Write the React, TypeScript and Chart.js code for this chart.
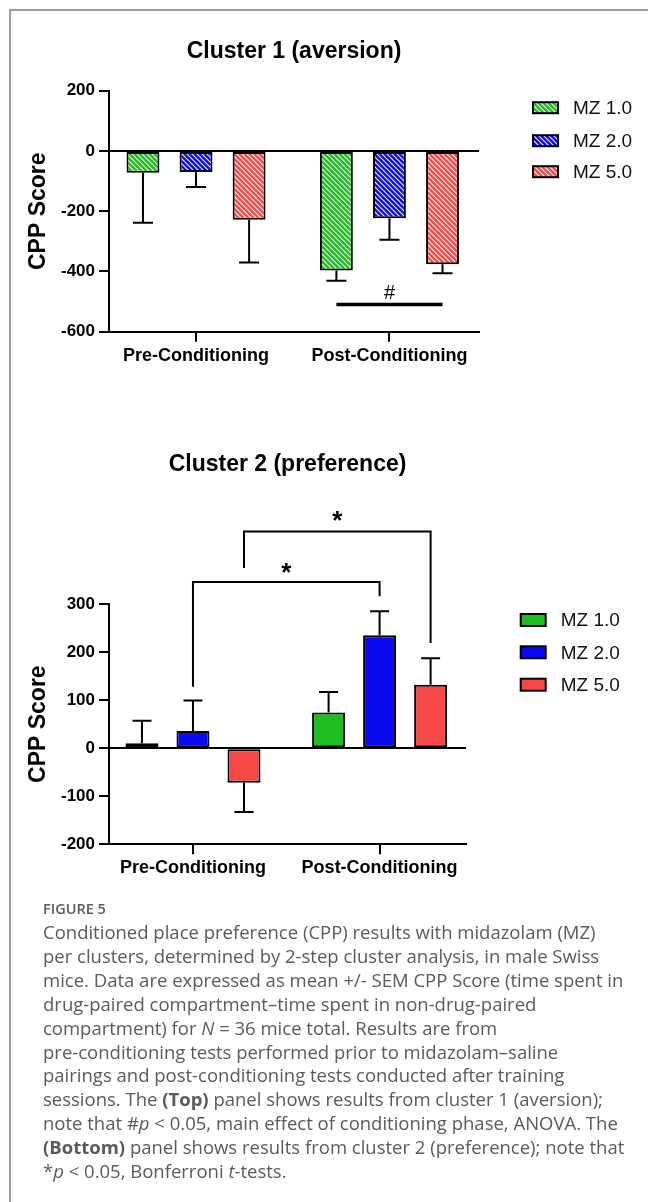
import React, { useEffect, useRef } from "react";
import { Chart, registerables } from "chart.js";

Chart.register(...registerables);

// ---------- data ----------
const phases = ["Pre-Conditioning", "Post-Conditioning"];
const seriesNames = ["MZ 1.0", "MZ 2.0", "MZ 5.0"];
const seriesColors = ["#1cbd1c", "#0b0bef", "#f74848"];

// Cluster 1 (aversion)
const c1Mz1 = [-72, -397];
const c1Mz2 = [-70, -223];
const c1Mz5 = [-228, -376];
const c1Mz1Sem = [166, 34];
const c1Mz2Sem = [50, 72];
const c1Mz5Sem = [142, 30];
const c1Ticks = [-600, -400, -200, 0, 200];

// Cluster 2 (preference)
const c2Mz1 = [10, 74];
const c2Mz2 = [36, 235];
const c2Mz5 = [-72, 132];
const c2Mz1Sem = [47, 43];
const c2Mz2Sem = [63, 50];
const c2Mz5Sem = [61, 55];
const c2Ticks = [-200, -100, 0, 100, 200, 300];

const FONT = "'Liberation Sans', Arial, Helvetica, sans-serif";

function hatch(color: string): any {
  const s = 5;
  const c = document.createElement("canvas");
  c.width = s;
  c.height = s;
  const g = c.getContext("2d")!;
  g.fillStyle = color;
  g.fillRect(0, 0, s, s);
  g.strokeStyle = "rgba(255,255,255,0.92)";
  g.lineWidth = 1.2;
  g.beginPath();
  g.moveTo(-1, -1);
  g.lineTo(s + 1, s + 1);
  g.moveTo(s - 1, -1);
  g.lineTo(s + 1, 1);
  g.moveTo(-1, s - 1);
  g.lineTo(1, s + 1);
  g.stroke();
  return g.createPattern(c, "repeat");
}

type PanelCfg = {
  title: string;
  titleY: number;
  values: number[][];
  sems: number[][];
  ticks: number[];
  hatched: boolean;
  width: number;
  height: number;
  padding: { left: number; right: number; top: number; bottom: number };
  catPct: number;
  barPct: number;
  xTickPad: number;
  legendX: number;
  legendTextX: number;
  legendYs: number[];
  legendH: number;
  capHalf: number;
  hashBar?: { fromDs: number; toDs: number; cat: number; y: number; labelY: number };
  brackets?: { fromCat: number; toCat: number; ds: number; leftY: number; rightY: number; topY: number; starY: number }[];
};

function makeDecor(cfg: PanelCfg) {
  return {
    id: "decor",
    afterDatasetsDraw(chart: any) {
      const ctx = chart.ctx;
      const ys = chart.scales.y;
      ctx.save();
      ctx.strokeStyle = "#000";
      ctx.lineWidth = 2;
      chart.data.datasets.forEach((ds: any, i: number) => {
        const meta = chart.getDatasetMeta(i);
        meta.data.forEach((el: any, j: number) => {
          const v = ds.data[j] as number;
          const sem = cfg.sems[i][j];
          const end = v >= 0 ? v + sem : v - sem;
          const yEnd = ys.getPixelForValue(end);
          ctx.beginPath();
          ctx.moveTo(el.x, el.y);
          ctx.lineTo(el.x, yEnd);
          ctx.moveTo(el.x - cfg.capHalf, yEnd);
          ctx.lineTo(el.x + cfg.capHalf, yEnd);
          ctx.stroke();
        });
      });
      ctx.restore();
    },
    afterDraw(chart: any) {
      const ctx = chart.ctx;
      const area = chart.chartArea;
      const ys = chart.scales.y;
      ctx.save();
      // title
      ctx.fillStyle = "#000";
      ctx.font = `bold 23px ${FONT}`;
      ctx.textAlign = "center";
      ctx.textBaseline = "middle";
      ctx.fillText(cfg.title, (area.left + area.right) / 2, cfg.titleY);

      // legend
      chart.data.datasets.forEach((ds: any, i: number) => {
        const yc = cfg.legendYs[i];
        const w = 25;
        const h = cfg.legendH;
        ctx.fillStyle = ds.backgroundColor;
        ctx.fillRect(cfg.legendX, yc - h / 2, w, h);
        ctx.strokeStyle = "#000";
        ctx.lineWidth = 2;
        ctx.strokeRect(cfg.legendX, yc - h / 2, w, h);
        ctx.fillStyle = "#111";
        ctx.font = `19px ${FONT}`;
        ctx.textAlign = "left";
        ctx.textBaseline = "middle";
        ctx.fillText(ds.label, cfg.legendTextX, yc + 1);
      });

      // significance bar (#)
      if (cfg.hashBar) {
        const hb = cfg.hashBar;
        const x1 = chart.getDatasetMeta(hb.fromDs).data[hb.cat].x;
        const x2 = chart.getDatasetMeta(hb.toDs).data[hb.cat].x;
        const yy = ys.getPixelForValue(hb.y);
        ctx.strokeStyle = "#000";
        ctx.lineWidth = 3.5;
        ctx.beginPath();
        ctx.moveTo(x1, yy);
        ctx.lineTo(x2, yy);
        ctx.stroke();
        ctx.fillStyle = "#000";
        ctx.font = `20px ${FONT}`;
        ctx.textAlign = "center";
        ctx.textBaseline = "middle";
        ctx.fillText("#", (x1 + x2) / 2, ys.getPixelForValue(hb.labelY));
      }

      // brackets (*)
      (cfg.brackets || []).forEach((b) => {
        const xl = chart.getDatasetMeta(b.ds).data[b.fromCat].x;
        const xr = chart.getDatasetMeta(b.ds).data[b.toCat].x;
        const yl = ys.getPixelForValue(b.leftY);
        const yr = ys.getPixelForValue(b.rightY);
        const yt = ys.getPixelForValue(b.topY);
        ctx.strokeStyle = "#000";
        ctx.lineWidth = 2;
        ctx.beginPath();
        ctx.moveTo(xl, yl);
        ctx.lineTo(xl, yt);
        ctx.lineTo(xr, yt);
        ctx.lineTo(xr, yr);
        ctx.stroke();
        ctx.fillStyle = "#000";
        ctx.font = `bold 26px ${FONT}`;
        ctx.textAlign = "center";
        ctx.textBaseline = "alphabetic";
        ctx.fillText("*", (xl + xr) / 2, ys.getPixelForValue(b.starY) + 26 * 0.57);
      });
      ctx.restore();
    },
  };
}

function Panel({ cfg, left, top }: { cfg: PanelCfg; left: number; top: number }) {
  const ref = useRef<HTMLCanvasElement>(null);
  useEffect(() => {
    const fills = seriesColors.map((c) => (cfg.hatched ? hatch(c) : c));
    const chart = new Chart(ref.current!, {
      type: "bar",
      data: {
        labels: phases,
        datasets: seriesNames.map((name, i) => ({
          label: name,
          data: cfg.values[i],
          backgroundColor: fills[i],
          borderColor: "#000",
          borderWidth: 2,
          borderSkipped: false,
          categoryPercentage: cfg.catPct,
          barPercentage: cfg.barPct,
        })),
      },
      options: {
        animation: false,
        responsive: false,
        maintainAspectRatio: false,
        events: [],
        layout: { padding: cfg.padding },
        plugins: {
          legend: { display: false },
          title: { display: false },
          tooltip: { enabled: false },
        },
        scales: {
          x: {
            offset: true,
            afterBuildTicks: (s: any) => {
              // group placement along the axis (GraphPad-style margins)
              s._startValue = -0.45;
              s._valueRange = 1.913;
            },
            afterFit: (s: any) => {
              s.height = 40;
            },
            grid: {
              offset: false,
              drawOnChartArea: false,
              drawTicks: true,
              tickLength: 10,
              tickColor: "#000",
              tickWidth: 2,
              lineWidth: 2,
            },
            border: { display: true, color: "#000", width: 2 },
            ticks: {
              color: "#000",
              padding: cfg.xTickPad,
              font: { family: FONT, size: 18, weight: "bold" },
              maxRotation: 0,
            },
          },
          y: {
            min: cfg.ticks[0],
            max: cfg.ticks[cfg.ticks.length - 1],
            afterBuildTicks: (s: any) => {
              s.ticks = cfg.ticks.map((v) => ({ value: v }));
            },
            afterFit: (s: any) => {
              s.width = 91;
            },
            grid: {
              drawOnChartArea: true,
              color: (c: any) => (c.tick && c.tick.value === 0 ? "#000" : "rgba(0,0,0,0)"),
              tickColor: "#000",
              tickLength: 10,
              tickWidth: 2,
              lineWidth: 2,
            },
            border: { display: true, color: "#000", width: 2 },
            ticks: {
              color: "#000",
              padding: 4,
              font: { family: FONT, size: 17, weight: "bold" },
            },
            title: {
              display: true,
              text: "CPP Score",
              color: "#000",
              font: { family: FONT, size: 23, weight: "bold" },
              padding: { top: 6.7, bottom: 0 },
            },
          },
        },
      },
      plugins: [makeDecor(cfg) as any],
    });
    return () => chart.destroy();
  }, []);
  return (
    <canvas
      ref={ref}
      width={cfg.width}
      height={cfg.height}
      style={{ position: "absolute", left, top, width: cfg.width, height: cfg.height }}
    />
  );
}

const topCfg: PanelCfg = {
  title: "Cluster 1 (aversion)",
  titleY: 32,
  values: [c1Mz1, c1Mz2, c1Mz5],
  sems: [c1Mz1Sem, c1Mz2Sem, c1Mz5Sem],
  ticks: c1Ticks,
  hatched: true,
  width: 640,
  height: 360,
  padding: { left: 10, right: 169, top: 70.7, bottom: 8.3 },
  catPct: 0.823,
  barPct: 0.62,
  xTickPad: 4,
  legendX: 525,
  legendTextX: 565,
  legendYs: [87.7, 120.7, 151.7],
  legendH: 11,
  capHalf: 10,
  hashBar: { fromDs: 0, toDs: 2, cat: 1, y: -510, labelY: -472 },
};

const bottomCfg: PanelCfg = {
  title: "Cluster 2 (preference)",
  titleY: 25,
  values: [c2Mz1, c2Mz2, c2Mz5],
  sems: [c2Mz1Sem, c2Mz2Sem, c2Mz5Sem],
  ticks: c2Ticks,
  hatched: false,
  width: 640,
  height: 445,
  padding: { left: 10, right: 182, top: 164, bottom: 0.7 },
  catPct: 0.82,
  barPct: 0.647,
  xTickPad: 3,
  legendX: 512.7,
  legendTextX: 552.7,
  legendYs: [180, 212.3, 244.7],
  legendH: 12,
  capHalf: 9.5,
  brackets: [
    { fromCat: 0, toCat: 1, ds: 1, leftY: 128, rightY: 316, topY: 346, starY: 378 },
    { fromCat: 0, toCat: 1, ds: 2, leftY: 375, rightY: 219, topY: 451, starY: 486 },
  ],
};

const capStyle: React.CSSProperties = {
  position: "absolute",
  left: 35,
  top: 912,
  fontFamily: "'Open Sans', 'Noto Sans', sans-serif",
  fontSize: 18.5,
  lineHeight: "23.9px",
  color: "#5a5a5a",
  whiteSpace: "nowrap",
};

export default function App() {
  return (
    <div style={{ position: "relative", width: 640, height: 1186, overflow: "hidden" }}>
      <div
        style={{
          position: "fixed",
          left: 9,
          top: 9,
          width: 639,
          height: 1193,
          borderTop: "2px solid #9b9b9b",
          borderLeft: "2px solid #9b9b9b",
          boxSizing: "border-box",
        }}
      />
      <Panel cfg={topCfg} left={0} top={12} />
      <Panel cfg={bottomCfg} left={0} top={432} />
      <div
        style={{
          position: "absolute",
          left: 35,
          top: 889,
          fontFamily: "'Open Sans', 'Noto Sans', sans-serif",
          fontSize: 14.5,
          fontWeight: 600,
          lineHeight: "24px",
          color: "#5a5a5a",
        }}
      >
        FIGURE 5
      </div>
      <div style={capStyle}>
        Conditioned place preference (CPP) results with midazolam (MZ)
        <br />
        per clusters, determined by 2-step cluster analysis, in male Swiss
        <br />
        mice. Data are expressed as mean +/- SEM CPP Score (time spent in
        <br />
        drug-paired compartment–time spent in non-drug-paired
        <br />
        compartment) for <i>N</i> = 36 mice total. Results are from
        <br />
        pre-conditioning tests performed prior to midazolam–saline
        <br />
        pairings and post-conditioning tests conducted after training
        <br />
        sessions. The <b>(Top)</b> panel shows results from cluster 1 (aversion);
        <br />
        note that #<i>p</i> &lt; 0.05, main effect of conditioning phase, ANOVA. The
        <br />
        <b>(Bottom)</b> panel shows results from cluster 2 (preference); note that
        <br />*<i>p</i> &lt; 0.05, Bonferroni <i>t</i>-tests.
      </div>
    </div>
  );
}
